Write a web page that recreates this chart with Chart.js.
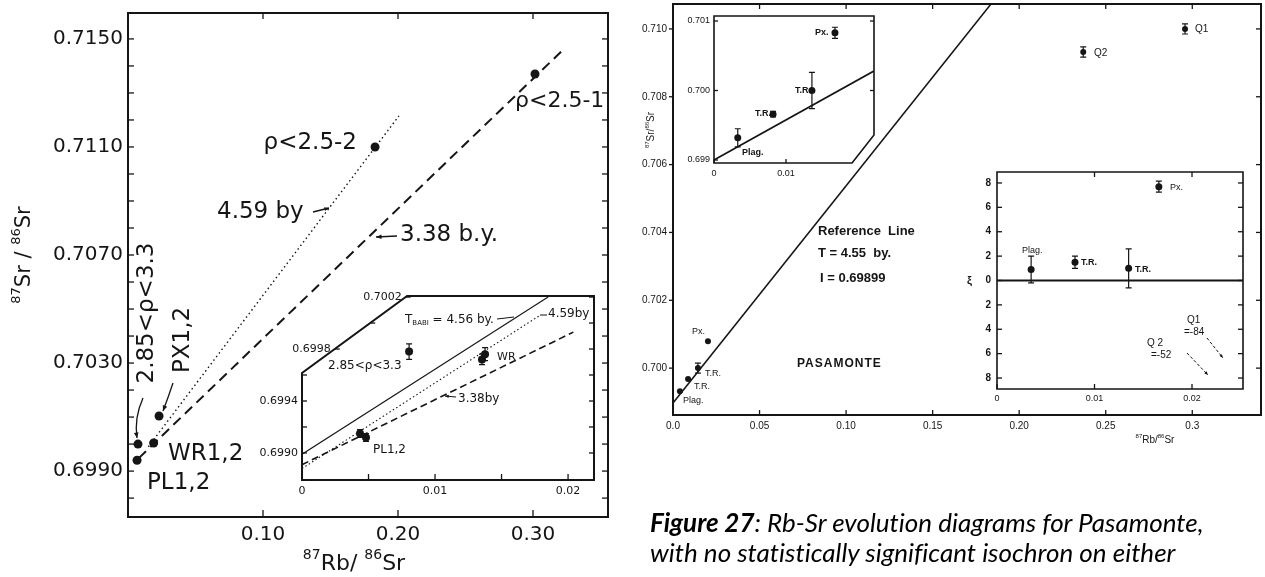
<!DOCTYPE html>
<html lang="en">
<head>
<meta charset="UTF-8">
<title>Pasamonte Rb-Sr evolution diagrams</title>
<script src="https://cdn.jsdelivr.net/npm/chart.js"></script>
<style>
  body { margin: 0; background: #fff; width: 1265px; height: 577px; position: relative; overflow: hidden; }
  canvas { position: absolute; }
  .caption { position: absolute; left: 650px; top: 507px; font-family: Lato, sans-serif; font-style: italic;
             font-size: 26px; line-height: 30px; color: #000; white-space: nowrap; z-index: 10;
             font-variant-ligatures: none; }
</style>
</head>
<body>
<canvas id="leftMain" width="625" height="577" style="left:0;top:0"></canvas>
<canvas id="leftInset" width="365" height="215" style="left:240px;top:285px"></canvas>
<canvas id="rightMain" width="635" height="577" style="left:630px;top:0"></canvas>
<canvas id="rightInsetA" width="200" height="175" style="left:680px;top:10px"></canvas>
<canvas id="rightInsetB" width="290" height="245" style="left:960px;top:165px"></canvas>
<div class="caption"><b>Figure 27</b>: Rb-Sr evolution diagrams for Pasamonte,<br>with no statistically significant isochron on either</div>

<script>
// ---- left figure, main plot (87Rb/86Sr vs 87Sr/86Sr)
const lmX = [0.0067, 0.0074, 0.019, 0.023, 0.183, 0.3015];
const lmY = [0.6994, 0.7000, 0.70004, 0.70104, 0.7110, 0.7137];
const lm459X = [0.015, 0.2007];
const lm459Y = [0.6999, 0.71215];
const lm338X = [0.008, 0.323];
const lm338Y = [0.69948, 0.71463];
const lmXTicks = [0.10, 0.20, 0.30];
const lmXLabels = ['0.10', '0.20', '0.30'];
const lmYTicks = [0.698, 0.699, 0.700, 0.701, 0.702, 0.703, 0.704, 0.705, 0.706,
                  0.707, 0.708, 0.709, 0.710, 0.711, 0.712, 0.713, 0.714, 0.715];
const lmYLabels = ['', '0.6990', '', '', '', '0.7030', '', '', '',
                   '0.7070', '', '', '', '0.7110', '', '', '', '0.7150'];

// ---- left figure, inset
const liX = [0.00805, 0.00436, 0.00481, 0.01353, 0.01376];
const liY = [0.69978, 0.69915, 0.69912, 0.69972, 0.69976];
const liErr = [0.00006, 0.00003, 0.00003, 0.00004, 0.00005];
const li456X = [0, 0.0185];
const li456Y = [0.69899, 0.7002];
const li459X = [0, 0.0179];
const li459Y = [0.69888, 0.70006];
const li338X = [0, 0.0204];
const li338Y = [0.69891, 0.69993];
const liXTicks = [0, 0.005, 0.01, 0.015, 0.02];
const liXLabels = ['0', '', '0.01', '', '0.02'];
const liYTicks = [0.6990, 0.6992, 0.6994, 0.6996, 0.6998, 0.7000, 0.7002];
const liYLabels = ['0.6990', '', '0.6994', '', '0.6998', '', '0.7002'];

// ---- right figure, main plot
const rmX = [0.004, 0.0087, 0.0144, 0.0202, 0.237, 0.2958];
const rmY = [0.69932, 0.69968, 0.7000, 0.70079, 0.70932, 0.7100];
const rmErr = [0, 0, 0.00015, 0, 0.00015, 0.00015];
const refX = [0, 0.1838];
const refY = [0.69897, 0.71074];
const rmXTicks = [0, 0.05, 0.10, 0.15, 0.20, 0.25, 0.30];
const rmXLabels = ['0.0', '0.05', '0.10', '0.15', '0.20', '0.25', '0.3'];
const rmYTicks = [0.700, 0.702, 0.704, 0.706, 0.708, 0.710];
const rmYLabels = ['0.700', '0.702', '0.704', '0.706', '0.708', '0.710'];

// ---- right figure, upper inset
const raX = [0.0033, 0.0082, 0.0136, 0.0168];
const raY = [0.69932, 0.69966, 0.7000, 0.70083];
const raErr = [0.00013, 0.00004, 0.00026, 0.00008];
const raLineX = [0, 0.0222];
const raLineY = [0.6990, 0.70028];
const raXTicks = [0, 0.01];
const raXLabels = ['0', '0.01'];
const raYTicks = [0.699, 0.700, 0.701];
const raYLabels = ['0.699', '0.700', '0.701'];

// ---- right figure, epsilon inset
const rbX = [0.0035, 0.008, 0.0135, 0.0166];
const rbY = [0.9, 1.5, 1.0, 7.7];
const rbErr = [1.1, 0.5, 1.6, 0.45];
const rbZeroX = [0, 0.02523];
const rbZeroY = [0, 0];
const rbXTicks = [0, 0.01, 0.02];
const rbXLabels = ['0', '0.01', '0.02'];
const rbYTicks = [-8, -6, -4, -2, 0, 2, 4, 6, 8];
const rbYLabels = ['8', '6', '4', '2', '0', '2', '4', '6', '8'];

const INK = '#151515';
const pts = (xs, ys) => xs.map((x, i) => ({ x, y: ys[i] }));
const dots = (xs, ys, r, err) => ({ data: pts(xs, ys), showLine: false, pointRadius: r,
  pointBackgroundColor: INK, pointBorderWidth: 0, err });
const line = (xs, ys, w, dash) => ({ data: pts(xs, ys), showLine: true, pointRadius: 0,
  borderColor: INK, borderWidth: w, borderDash: dash || [] });
const font = (size, bold, fam) => (bold ? 'bold ' : '') + size + 'px ' + fam;

// boundary of the frame polygon at pixel v (y if alongY, else x)
function edgeAt(poly, v, alongY, pickMax) {
  const a = alongY ? 1 : 0, b = alongY ? 0 : 1;
  let best = null;
  for (let i = 0; i < poly.length; i++) {
    const p = poly[i], q = poly[(i + 1) % poly.length];
    if (Math.abs(p[a] - q[a]) < 0.01) continue;
    const lo = Math.min(p[a], q[a]), hi = Math.max(p[a], q[a]);
    if (v < lo - 0.5 || v > hi + 0.5) continue;
    const r = p[b] + (v - p[a]) / (q[a] - p[a]) * (q[b] - p[b]);
    if (best === null || (pickMax ? r > best : r < best)) best = r;
  }
  return best;
}

function drawText(ctx, tx, fam) {
  const size = tx.size || 10;
  const segs = Array.isArray(tx.t) ? tx.t : [[tx.t, '']];
  ctx.save();
  ctx.translate(tx.x, tx.y);
  if (tx.rot) ctx.rotate(tx.rot * Math.PI / 180);
  if (tx.ls) ctx.letterSpacing = tx.ls + 'px';
  ctx.textBaseline = 'middle';
  ctx.textAlign = 'left';
  const sizes = segs.map(s => s[1] ? Math.round(size * 0.62) : size);
  let total = 0;
  const widths = segs.map((s, i) => {
    ctx.font = font(sizes[i], tx.bold, tx.fam || fam);
    const w = ctx.measureText(s[0]).width; total += w; return w;
  });
  let x = tx.align === 'center' ? -total / 2 : tx.align === 'right' ? -total : 0;
  segs.forEach((s, i) => {
    ctx.font = font(sizes[i], tx.bold, tx.fam || fam);
    const dy = s[1] === 'sup' ? -size * 0.38 : s[1] === 'sub' ? size * 0.3 : 0;
    ctx.fillText(s[0], x, dy);
    x += widths[i];
  });
  ctx.restore();
}

function drawArrow(ctx, a) {
  ctx.save();
  ctx.lineWidth = a.w || 1.3;
  ctx.setLineDash(a.dash || []);
  ctx.beginPath();
  ctx.moveTo(a.x1, a.y1);
  if (a.cx != null) ctx.quadraticCurveTo(a.cx, a.cy, a.x2, a.y2);
  else ctx.lineTo(a.x2, a.y2);
  ctx.stroke();
  if (a.head) {
    const fx = a.cx != null ? a.cx : a.x1, fy = a.cy != null ? a.cy : a.y1;
    const ang = Math.atan2(a.y2 - fy, a.x2 - fx), h = a.head;
    ctx.setLineDash([]);
    ctx.beginPath();
    ctx.moveTo(a.x2, a.y2);
    ctx.lineTo(a.x2 - h * Math.cos(ang - 0.4), a.y2 - h * Math.sin(ang - 0.4));
    ctx.lineTo(a.x2 - h * Math.cos(ang + 0.4), a.y2 - h * Math.sin(ang + 0.4));
    ctx.closePath();
    ctx.fill();
  }
  ctx.restore();
}

// frame, inward ticks, tick labels, error bars and annotations
function makeDecor(cfg) {
  const framePoly = chart => {
    const xs = chart.scales.x, ys = chart.scales.y, a = chart.chartArea;
    if (!cfg.frame) return [[a.left, a.top], [a.right, a.top], [a.right, a.bottom], [a.left, a.bottom]];
    return cfg.frame.map(p => [xs.getPixelForValue(p[0]), ys.getPixelForValue(p[1])]);
  };
  const SIDES = { left: [true, false, 1], right: [true, true, -1], top: [false, false, 1], bottom: [false, true, -1] };
  return {
    id: 'decor',
    beforeDraw(chart) {
      const ctx = chart.ctx, poly = framePoly(chart);
      ctx.save();
      ctx.beginPath();
      poly.forEach((p, i) => i ? ctx.lineTo(p[0], p[1]) : ctx.moveTo(p[0], p[1]));
      ctx.closePath();
      ctx.fillStyle = '#fff';
      ctx.fill();
      ctx.restore();
    },
    afterDatasetsDraw(chart) {
      const ctx = chart.ctx, xs = chart.scales.x, ys = chart.scales.y;
      const poly = framePoly(chart);
      ctx.save();
      ctx.strokeStyle = INK;
      ctx.fillStyle = INK;

      // error bars
      ctx.lineWidth = 1.2;
      chart.data.datasets.forEach(ds => {
        if (!ds.err) return;
        ds.data.forEach((p, i) => {
          const e = ds.err[i];
          if (!e) return;
          const px = xs.getPixelForValue(p.x);
          const y1 = ys.getPixelForValue(p.y - e), y2 = ys.getPixelForValue(p.y + e);
          const c = cfg.cap || 3;
          ctx.beginPath();
          ctx.moveTo(px, y1); ctx.lineTo(px, y2);
          ctx.moveTo(px - c, y1); ctx.lineTo(px + c, y1);
          ctx.moveTo(px - c, y2); ctx.lineTo(px + c, y2);
          ctx.stroke();
        });
      });

      // frame
      ctx.lineWidth = cfg.lw || 2;
      ctx.beginPath();
      poly.forEach((p, i) => i ? ctx.lineTo(p[0], p[1]) : ctx.moveTo(p[0], p[1]));
      ctx.closePath();
      ctx.stroke();

      // ticks and tick labels
      ctx.lineWidth = cfg.tw || 1.3;
      for (const side in (cfg.axes || {})) {
        const ax = cfg.axes[side];
        const [alongY, pickMax, inward] = SIDES[side];
        const sc = alongY ? ys : xs;
        const dir = ax.out ? -inward : inward;
        ax.ticks.forEach((v, i) => {
          const p = sc.getPixelForValue(v);
          const e = edgeAt(poly, p, alongY, pickMax);
          if (e === null) return;
          const len = ax.len || 5;
          ctx.beginPath();
          if (alongY) { ctx.moveTo(e, p); ctx.lineTo(e + dir * len, p); }
          else { ctx.moveTo(p, e); ctx.lineTo(p, e + dir * len); }
          ctx.stroke();
          const lab = ax.labels && ax.labels[i];
          if (!lab) return;
          const g = ax.gap != null ? ax.gap : 4;
          ctx.font = font(ax.size || 10, ax.bold, ax.fam || cfg.fam);
          ctx.textBaseline = 'middle';
          if (side === 'left') { ctx.textAlign = 'right'; ctx.fillText(lab, e - g, p); }
          else if (side === 'right') { ctx.textAlign = 'left'; ctx.fillText(lab, e + g, p); }
          else if (side === 'bottom') { ctx.textAlign = 'center'; ctx.fillText(lab, p, e + g); }
          else { ctx.textAlign = 'center'; ctx.fillText(lab, p, e - g); }
        });
      }

      // annotations, given in page pixels
      ctx.translate(-cfg.ox, -cfg.oy);
      (cfg.arrows || []).forEach(a => drawArrow(ctx, a));
      (cfg.texts || []).forEach(t => drawText(ctx, t, cfg.fam));
      ctx.restore();
    }
  };
}

function makeChart(id, datasets, xr, yr, pad, decor) {
  return new Chart(document.getElementById(id), {
    type: 'scatter',
    data: { datasets },
    options: {
      responsive: false,
      animation: false,
      events: [],
      layout: { padding: pad },
      plugins: { legend: { display: false }, tooltip: { enabled: false } },
      scales: {
        x: { type: 'linear', min: xr[0], max: xr[1], display: false },
        y: { type: 'linear', min: yr[0], max: yr[1], display: false }
      }
    },
    plugins: [makeDecor(decor)]
  });
}

const LFAM = "'DejaVu Sans', sans-serif";
const RFAM = "'Liberation Sans', Arial, sans-serif";

// left main
makeChart('leftMain', [
  dots(lmX, lmY, 4.5),
  line(lm459X, lm459Y, 1.4, [1.5, 3]),
  line(lm338X, lm338Y, 2, [10, 6])
], [0, 0.35556], [0.69730, 0.71596], { left: 128, top: 13, right: 17, bottom: 60 }, {
  ox: 0, oy: 0, fam: LFAM, lw: 2,
  axes: {
    left: { ticks: lmYTicks, labels: lmYLabels, len: 6, gap: 5, size: 20 },
    right: { ticks: lmYTicks, len: 6 },
    bottom: { ticks: lmXTicks, labels: lmXLabels, len: 7, gap: 18, size: 20 },
    top: { ticks: lmXTicks, len: 6 }
  },
  texts: [
    { t: 'ρ<2.5-2', x: 357, y: 143, size: 23, align: 'right' },
    { t: 'ρ<2.5-1', x: 515, y: 101, size: 22 },
    { t: '4.59 by', x: 217, y: 212, size: 23 },
    { t: '3.38 b.y.', x: 400, y: 235, size: 23 },
    { t: '2.85<ρ<3.3', x: 147, y: 313, size: 23, align: 'center', rot: -90 },
    { t: 'PX1,2', x: 183, y: 340, size: 23, align: 'center', rot: -90 },
    { t: 'WR1,2', x: 168, y: 454, size: 23 },
    { t: 'PL1,2', x: 147, y: 483, size: 23 },
    { t: [['87', 'sup'], ['Sr / ', ''], ['86', 'sup'], ['Sr', '']], x: 25, y: 255, size: 21, align: 'center', rot: -90 },
    { t: [['87', 'sup'], ['Rb/ ', ''], ['86', 'sup'], ['Sr', '']], x: 354, y: 564, size: 22, align: 'center' }
  ],
  arrows: [
    { x1: 313, y1: 212, x2: 329, y2: 208, head: 5 },
    { x1: 397, y1: 236, x2: 376, y2: 237, head: 6 },
    { x1: 143, y1: 398, cx: 134, cy: 418, x2: 137, y2: 438, head: 6 },
    { x1: 173, y1: 383, cx: 168, cy: 398, x2: 163, y2: 411, head: 6 }
  ]
});

// left inset
makeChart('leftInset', [
  dots(liX, liY, 4, liErr),
  line(li456X, li456Y, 1.1),
  line(li459X, li459Y, 1.1, [1.5, 2.5]),
  line(li338X, li338Y, 1.6, [7, 4])
], [0, 0.02195], [0.698792, 0.700208], { left: 62, top: 11, right: 11, bottom: 20 }, {
  ox: 240, oy: 285, fam: LFAM, lw: 2, cap: 3,
  frame: [[0, 0.698792], [0, 0.699615], [0.0079, 0.700208], [0.02195, 0.700208], [0.02195, 0.698792]],
  axes: {
    left: { ticks: liYTicks, labels: liYLabels, len: 5, gap: 4, size: 11 },
    right: { ticks: liYTicks, len: 5 },
    bottom: { ticks: liXTicks, labels: liXLabels, len: 6, gap: 11, size: 11 }
  },
  texts: [
    { t: [['T', ''], ['BABI', 'sub'], [' = 4.56 by.', '']], x: 405, y: 320, size: 12 },
    { t: '4.59by', x: 548, y: 314, size: 12 },
    { t: '2.85<ρ<3.3', x: 328, y: 366, size: 12 },
    { t: 'WR', x: 497, y: 357, size: 11 },
    { t: '3.38by', x: 458, y: 399, size: 12 },
    { t: 'PL1,2', x: 373, y: 450, size: 12 }
  ],
  arrows: [
    { x1: 497, y1: 319, x2: 514, y2: 317, w: 1 },
    { x1: 540, y1: 315, x2: 547, y2: 315, w: 1 },
    { x1: 456, y1: 397, x2: 445, y2: 396, w: 1, head: 4 }
  ]
});

// right main
makeChart('rightMain', [
  dots(rmX, rmY, 3, rmErr),
  line(refX, refY, 1.6)
], [0, 0.3397], [0.698618, 0.710735], { left: 43, top: 3, right: 3, bottom: 162 }, {
  ox: 630, oy: 0, fam: RFAM, lw: 2, cap: 3,
  axes: {
    left: { ticks: rmYTicks, labels: rmYLabels, len: 4, out: true, gap: 6, size: 10 },
    right: { ticks: rmYTicks, len: 5 },
    bottom: { ticks: rmXTicks, labels: rmXLabels, len: 5, gap: 11, size: 10 },
    top: { ticks: rmXTicks, len: 5 }
  },
  texts: [
    { t: 'Reference  Line', x: 818, y: 231, size: 13, bold: true },
    { t: 'T = 4.55  by.', x: 818, y: 253, size: 13, bold: true },
    { t: 'I = 0.69899', x: 820, y: 278, size: 13, bold: true },
    { t: 'PASAMONTE', x: 797, y: 364, size: 12, bold: true, ls: 1 },
    { t: 'Px.', x: 692, y: 332, size: 9 },
    { t: 'T.R.', x: 705, y: 374, size: 9 },
    { t: 'T.R.', x: 694, y: 387, size: 9 },
    { t: 'Plag.', x: 683, y: 401, size: 9 },
    { t: 'Q1', x: 1195, y: 29, size: 10 },
    { t: 'Q2', x: 1094, y: 53, size: 10 },
    { t: [['87', 'sup'], ['Sr/', ''], ['86', 'sup'], ['Sr', '']], x: 651, y: 130, size: 10, align: 'center', rot: -90 },
    { t: [['87', 'sup'], ['Rb/', ''], ['86', 'sup'], ['Sr', '']], x: 1155, y: 440, size: 10, align: 'center' }
  ]
});

// right upper inset
makeChart('rightInsetA', [
  dots(raX, raY, 3.5, raErr),
  line(raLineX, raLineY, 1.6)
], [0, 0.02222], [0.698957, 0.701072], { left: 34, top: 6, right: 6, bottom: 22 }, {
  ox: 680, oy: 10, fam: RFAM, lw: 1.6, cap: 3,
  frame: [[0, 0.698957], [0, 0.701072], [0.02222, 0.701072], [0.02222, 0.69936], [0.01917, 0.698957]],
  axes: {
    left: { ticks: raYTicks, labels: raYLabels, len: 4, gap: 4, size: 9 },
    right: { ticks: [0.700, 0.701], len: 4 },
    bottom: { ticks: raXTicks, labels: raXLabels, len: 4, gap: 11, size: 9 }
  },
  texts: [
    { t: 'Px.', x: 815, y: 33, size: 9, bold: true },
    { t: 'T.R.', x: 795, y: 91, size: 9, bold: true },
    { t: 'T.R.', x: 755, y: 114, size: 9, bold: true },
    { t: 'Plag.', x: 742, y: 153, size: 9, bold: true }
  ]
});

// right epsilon inset
makeChart('rightInsetB', [
  dots(rbX, rbY, 3.5, rbErr),
  line(rbZeroX, rbZeroY, 2)
], [0, 0.02523], [-8.9, 8.9], { left: 37, top: 7, right: 7, bottom: 21 }, {
  ox: 960, oy: 165, fam: RFAM, lw: 1.6, cap: 3,
  axes: {
    left: { ticks: rbYTicks, labels: rbYLabels, len: 5, gap: 6, size: 10, bold: true },
    right: { ticks: rbYTicks, len: 5 },
    bottom: { ticks: rbXTicks, labels: rbXLabels, len: 5, gap: 10, size: 9 },
    top: { ticks: [0.01, 0.02], len: 5 }
  },
  texts: [
    { t: 'ξ', x: 967, y: 281, size: 11, bold: true },
    { t: 'Px.', x: 1170, y: 188, size: 9 },
    { t: 'Plag.', x: 1022, y: 251, size: 9 },
    { t: 'T.R.', x: 1081, y: 263, size: 9, bold: true },
    { t: 'T.R.', x: 1135, y: 270, size: 9, bold: true },
    { t: 'Q1', x: 1187, y: 320, size: 10 },
    { t: '=-84', x: 1184, y: 332, size: 10 },
    { t: 'Q 2', x: 1147, y: 343, size: 10 },
    { t: '=-52', x: 1151, y: 355, size: 10 }
  ],
  arrows: [
    { x1: 1207, y1: 338, x2: 1223, y2: 358, w: 1, dash: [3, 2], head: 4 },
    { x1: 1187, y1: 353, x2: 1208, y2: 375, w: 1, dash: [3, 2], head: 4 }
  ]
});
</script>
</body>
</html>
